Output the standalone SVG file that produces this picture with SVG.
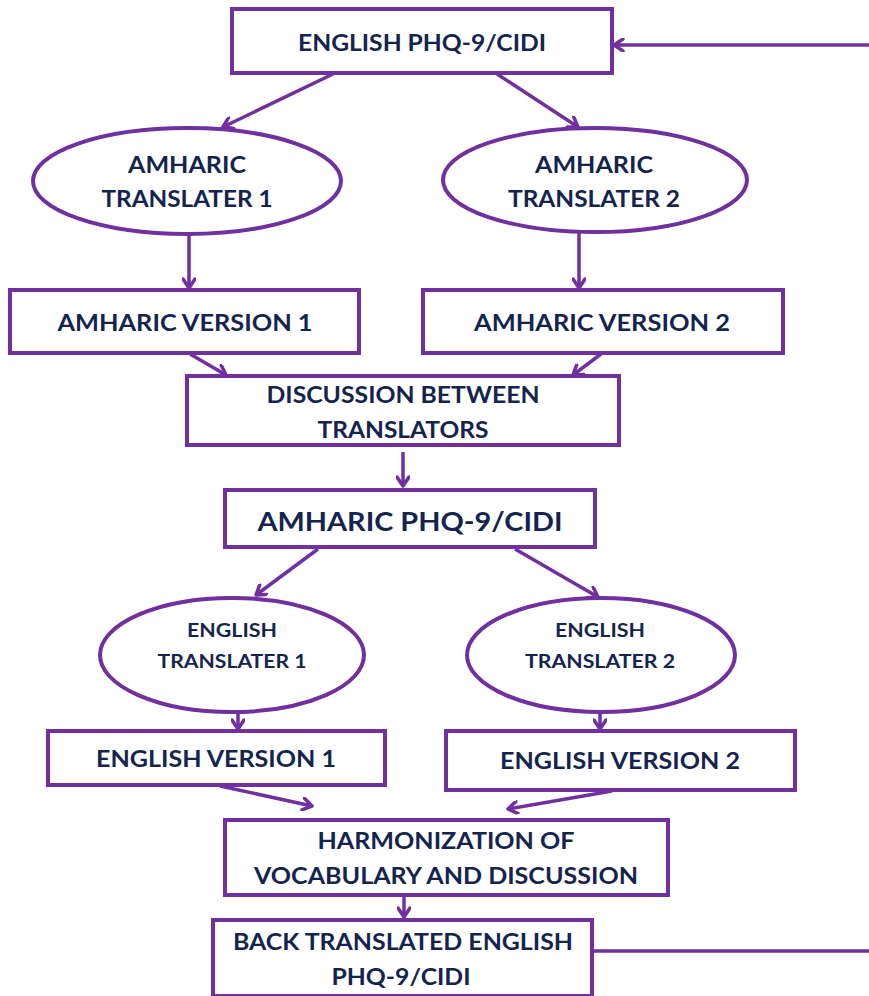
<svg xmlns="http://www.w3.org/2000/svg" width="869" height="996" viewBox="0 0 869 996">
<defs>
<marker id="arr" markerWidth="14" markerHeight="14" refX="11" refY="7" orient="auto" markerUnits="userSpaceOnUse">
<path d="M2,1 L11,7 L2,13" fill="none" stroke="#7030a0" stroke-width="3.5" stroke-linecap="round" stroke-linejoin="round"/>
</marker>
<style>
.box{fill:#ffffff;stroke:#7030a0;stroke-width:4}
.ell{fill:#ffffff;stroke:#7030a0;stroke-width:4}
.con{fill:none;stroke:#7030a0;stroke-width:3.5}
.t{font-family:Lato,"Open Sans","Liberation Sans",sans-serif;font-weight:bold;fill:#14244e;text-anchor:middle;dominant-baseline:central}
</style>
</defs>
<rect width="869" height="996" fill="#ffffff"/>
<g id="connectors">
<line class="con" x1="869" y1="45" x2="614" y2="45" marker-end="url(#arr)"/>
<line class="con" x1="333" y1="74" x2="223" y2="127" marker-end="url(#arr)"/>
<line class="con" x1="497" y1="74" x2="578" y2="127" marker-end="url(#arr)"/>
<line class="con" x1="189" y1="234" x2="189" y2="288" marker-end="url(#arr)"/>
<line class="con" x1="579" y1="233" x2="579" y2="288" marker-end="url(#arr)"/>
<line class="con" x1="190" y1="354" x2="226" y2="375" marker-end="url(#arr)"/>
<line class="con" x1="601" y1="354" x2="573" y2="375" marker-end="url(#arr)"/>
<line class="con" x1="403" y1="452" x2="403" y2="486" marker-end="url(#arr)"/>
<line class="con" x1="318" y1="549" x2="256" y2="595" marker-end="url(#arr)"/>
<line class="con" x1="515" y1="549" x2="598" y2="597" marker-end="url(#arr)"/>
<line class="con" x1="238" y1="714" x2="238" y2="729" marker-end="url(#arr)"/>
<line class="con" x1="600" y1="714" x2="600" y2="729" marker-end="url(#arr)"/>
<line class="con" x1="220" y1="786" x2="312" y2="806" marker-end="url(#arr)"/>
<line class="con" x1="612" y1="791" x2="508" y2="809" marker-end="url(#arr)"/>
<line class="con" x1="404" y1="896" x2="404" y2="917" marker-end="url(#arr)"/>
<line class="con" x1="592" y1="951" x2="869" y2="951"/>
</g>
<g id="english-phq">
<rect class="box" x="232" y="9" width="380" height="64"/>
<text class="t" x="422" y="42" font-size="22" textLength="248" lengthAdjust="spacingAndGlyphs">ENGLISH PHQ-9/CIDI</text>
</g>
<g id="amharic-translater-1">
<ellipse class="ell" cx="187" cy="181" rx="154" ry="53"/>
<text class="t" x="187" y="164" font-size="23" textLength="118" lengthAdjust="spacingAndGlyphs">AMHARIC</text>
<text class="t" x="187" y="198" font-size="23" textLength="171" lengthAdjust="spacingAndGlyphs">TRANSLATER 1</text>
</g>
<g id="amharic-translater-2">
<ellipse class="ell" cx="595" cy="180" rx="152" ry="52"/>
<text class="t" x="594" y="164" font-size="23" textLength="118" lengthAdjust="spacingAndGlyphs">AMHARIC</text>
<text class="t" x="594" y="198" font-size="23" textLength="172" lengthAdjust="spacingAndGlyphs">TRANSLATER 2</text>
</g>
<g id="amharic-version-1">
<rect class="box" x="10" y="290" width="349" height="63"/>
<text class="t" x="185" y="322" font-size="22" textLength="255" lengthAdjust="spacingAndGlyphs">AMHARIC VERSION 1</text>
</g>
<g id="amharic-version-2">
<rect class="box" x="423" y="290" width="360" height="63"/>
<text class="t" x="602" y="322" font-size="22" textLength="256" lengthAdjust="spacingAndGlyphs">AMHARIC VERSION 2</text>
</g>
<g id="discussion">
<rect class="box" x="187" y="376" width="432" height="69"/>
<text class="t" x="403" y="394" font-size="22" textLength="273" lengthAdjust="spacingAndGlyphs">DISCUSSION BETWEEN</text>
<text class="t" x="403" y="429" font-size="22" textLength="171" lengthAdjust="spacingAndGlyphs">TRANSLATORS</text>
</g>
<g id="amharic-phq">
<rect class="box" x="225" y="490" width="370" height="57"/>
<text class="t" x="410" y="520" font-size="27" textLength="305" lengthAdjust="spacingAndGlyphs">AMHARIC PHQ-9/CIDI</text>
</g>
<g id="english-translater-1">
<ellipse class="ell" cx="232" cy="655" rx="132" ry="57"/>
<text class="t" x="232" y="629" font-size="19" textLength="90" lengthAdjust="spacingAndGlyphs">ENGLISH</text>
<text class="t" x="232" y="660" font-size="19" textLength="149" lengthAdjust="spacingAndGlyphs">TRANSLATER 1</text>
</g>
<g id="english-translater-2">
<ellipse class="ell" cx="601" cy="655" rx="134" ry="57"/>
<text class="t" x="600" y="629" font-size="19" textLength="90" lengthAdjust="spacingAndGlyphs">ENGLISH</text>
<text class="t" x="600" y="660" font-size="19" textLength="150" lengthAdjust="spacingAndGlyphs">TRANSLATER 2</text>
</g>
<g id="english-version-1">
<rect class="box" x="48" y="731" width="337" height="54"/>
<text class="t" x="216" y="758" font-size="22" textLength="240" lengthAdjust="spacingAndGlyphs">ENGLISH VERSION 1</text>
</g>
<g id="english-version-2">
<rect class="box" x="446" y="731" width="349" height="59"/>
<text class="t" x="620" y="760" font-size="22" textLength="240" lengthAdjust="spacingAndGlyphs">ENGLISH VERSION 2</text>
</g>
<g id="harmonization">
<rect class="box" x="225" y="820" width="443" height="75"/>
<text class="t" x="446" y="840" font-size="23" textLength="257" lengthAdjust="spacingAndGlyphs">HARMONIZATION OF</text>
<text class="t" x="446" y="875" font-size="23" textLength="384" lengthAdjust="spacingAndGlyphs">VOCABULARY AND DISCUSSION</text>
</g>
<g id="back-translated">
<rect class="box" x="213" y="920" width="379" height="76"/>
<text class="t" x="403" y="941" font-size="22" textLength="340" lengthAdjust="spacingAndGlyphs">BACK TRANSLATED ENGLISH</text>
<text class="t" x="401" y="976" font-size="22" textLength="139" lengthAdjust="spacingAndGlyphs">PHQ-9/CIDI</text>
</g>
</svg>
